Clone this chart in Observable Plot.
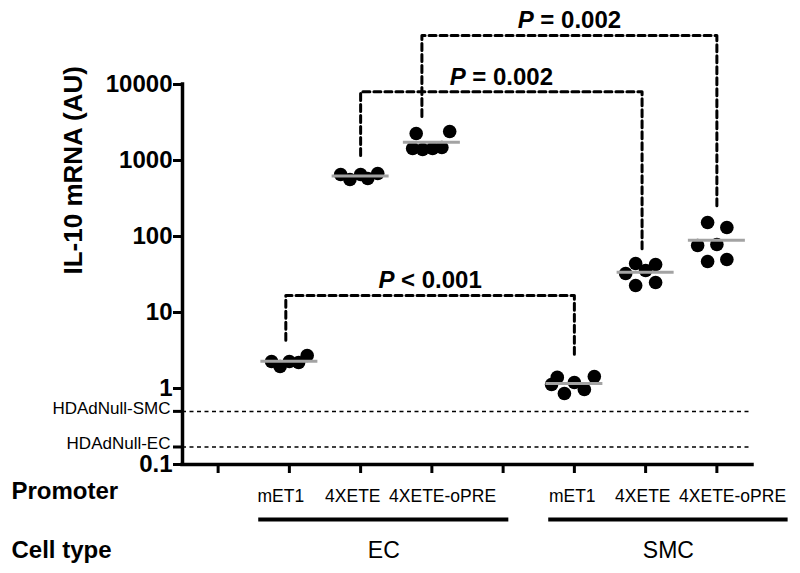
<!DOCTYPE html>
<html><head><meta charset="utf-8">
<script src="https://cdn.jsdelivr.net/npm/d3@7"></script>
<script src="https://cdn.jsdelivr.net/npm/@observablehq/plot@0.6"></script>
<style>body{margin:0;background:#fff} svg{display:block}</style>
</head><body><div id="chart"></div>
<script>
// ---- data ----
const groupNames = ["EC mET1", "EC 4XETE", "EC 4XETE-oPRE", "SMC mET1", "SMC 4XETE", "SMC 4XETE-oPRE"];
const groupPositions = [2, 3, 4, 6, 7, 8];
const groupValues = [
  [2.27, 1.95, 2.27, 2.2, 2.72],
  [654, 562, 654, 580, 675],
  [2265, 2408, 1438, 1396, 1438, 1483],
  [1.13, 1.40, 0.86, 1.20, 0.97, 1.44],
  [44.2, 42.8, 32.6, 35.7, 22.7, 24.8],
  [152.9, 131.3, 76.2, 78.5, 46.9, 49.8]
];
const groupJitter = [
  [-0.25, -0.13, 0, 0.13, 0.25],
  [-0.28, -0.15, 0, 0.1, 0.24],
  [-0.22, 0.25, -0.27, -0.13, 0.01, 0.14],
  [-0.32, -0.24, -0.14, 0, 0.14, 0.28],
  [-0.14, 0.14, -0.28, 0, -0.14, 0.14],
  [-0.13, 0.14, -0.27, 0, -0.13, 0.14]
];
const yTicks = [0.1, 1, 10, 100, 1000, 10000];
const nullLevels = [0.5, 0.17];
const nullLabels = ["HDAdNull-SMC", "HDAdNull-EC"];
const xTicks = [1, 2, 3, 4, 5, 6, 7, 8];
const promoterLabels = ["mET1", "4XETE", "4XETE-oPRE", "mET1", "4XETE", "4XETE-oPRE"];
const promoterLabelPos = [1.88, 2.89, 4.15, 5.97, 6.96, 8.22];
const cellTypes = ["EC", "SMC"];
const cellTypeStart = [1.57, 5.64];
const cellTypeEnd = [5.08, 9.0];
const bracketLabels = ["P < 0.001", "P = 0.002", "P = 0.002"];
const bracketFrom = [1.95, 3, 3.86];
const bracketTo = [6, 6.95, 8];
const bracketTop = [16.7, 8000, 44000];
const bracketFromEnd = [4.3, 1160, 3800];
const bracketToEnd = [2.55, 65, 234];
const rowHeaders = ["Promoter", "Cell type"];
const yTitle = "IL-10 mRNA (AU)";

// ---- derived tables ----
const rows = groupNames.flatMap((g, i) => groupValues[i].map((v, j) => ({group: g, pos: groupPositions[i], jitter: groupJitter[i][j], value: v})));
const means = groupNames.map((g, i) => ({group: g, pos: groupPositions[i], mean: d3.mean(groupValues[i])}));
const brackets = bracketLabels.map((label, i) => ({label, x1: bracketFrom[i], x2: bracketTo[i], top: bracketTop[i]}));
const bracketPts = bracketLabels.flatMap((label, i) => [
  {b: i, x: bracketFrom[i], y: bracketFromEnd[i]},
  {b: i, x: bracketFrom[i], y: bracketTop[i]},
  {b: i, x: bracketTo[i], y: bracketTop[i]},
  {b: i, x: bracketTo[i], y: bracketToEnd[i]}
]);
const cellGroups = cellTypes.map((c, i) => ({c, x1: cellTypeStart[i], x2: cellTypeEnd[i]}));
const nulls = nullLevels.map((v, i) => ({v, label: nullLabels[i]}));
const promoters = promoterLabels.map((p, i) => ({p, x: promoterLabelPos[i]}));

const font = "'Liberation Sans', Arial, Helvetica, sans-serif";

const chart = Plot.plot({
  width: 800, height: 573,
  marginLeft: 182, marginRight: 48, marginTop: 84, marginBottom: 109,
  style: {fontFamily: font, background: "#fff", overflow: "visible", color: "#000"},
  x: {type: "linear", domain: [0.5, 8.5], axis: null},
  y: {type: "log", domain: [0.1, 10000], axis: null},
  marks: [
    Plot.ruleY(nulls, {y: "v", x1: 0.5, x2: 8.5, stroke: "#000", strokeWidth: 1.5, strokeDasharray: "4,3.5"}),
    Plot.axisY({ticks: yTicks, tickFormat: d3.format("~g"), tickSize: 9, tickPadding: 1, fontSize: 24, fontWeight: "bold", strokeWidth: 3, label: null}),
    Plot.axisY({ticks: nullLevels, tickFormat: () => "", tickSize: 9, strokeWidth: 3, label: null}),
    Plot.text(nulls, {y: "v", x: 0.5, text: "label", textAnchor: "end", dx: -12, dy: -3, fontSize: 17, fill: "#000"}),
    Plot.axisX({ticks: xTicks, tickFormat: () => "", tickSize: 9, strokeWidth: 3, label: null}),
    Plot.text(promoters, {x: "x", text: "p", frameAnchor: "bottom", dy: 37, fontSize: 17.5, fill: "#000"}),
    Plot.ruleX([0.5], {y1: 0.1, y2: 10000, strokeWidth: 3.5, strokeLinecap: "square"}),
    Plot.ruleY([0.1], {x1: 0.5, x2: 8.5, strokeWidth: 3.5, strokeLinecap: "square"}),
    Plot.dot(rows, {x: d => d.pos + d.jitter, y: "value", r: 6.8, fill: "#000", stroke: "none"}),
    Plot.ruleY(means, {y: "mean", x1: d => d.pos - 0.4, x2: d => d.pos + 0.4, stroke: "#a3a3a3", strokeWidth: 3}),
    Plot.line(bracketPts, {x: "x", y: "y", z: "b", stroke: "#000", strokeWidth: 3, strokeDasharray: "7,4"}),
    Plot.text(brackets, {x: d => (d.x1 + d.x2) / 2, y: "top", text: "label", dy: -15, fontSize: 24, fontWeight: "bold", fill: "#000"}),
    Plot.text([yTitle], {text: d => d, frameAnchor: "left", dx: -109, rotate: -90, fontSize: 26, fontWeight: "bold", fill: "#000"}),
    Plot.text([rowHeaders[0]], {text: d => d, x: -1.9, frameAnchor: "bottom", dy: 34, textAnchor: "start", fontSize: 24, fontWeight: "bold", fill: "#000"}),
    Plot.text([rowHeaders[1]], {text: d => d, x: -1.9, frameAnchor: "bottom", dy: 93, textAnchor: "start", fontSize: 24, fontWeight: "bold", fill: "#000"}),
    Plot.ruleY(cellGroups, {y: () => 0.1, x1: "x1", x2: "x2", dy: 55, strokeWidth: 4}),
    Plot.text(cellGroups, {text: "c", x: d => (d.x1 + d.x2) / 2, frameAnchor: "bottom", dy: 93, fontSize: 23, fill: "#000"})
  ]
});
document.getElementById("chart").appendChild(chart);

// italic "P" in significance labels
d3.select(chart).selectAll("text").each(function () {
  const t = this.textContent;
  if (/^P [=<]/.test(t) && this.children.length === 0) {
    const sel = d3.select(this);
    sel.text(null);
    sel.append("tspan").attr("font-style", "italic").text("P");
    sel.append("tspan").text(t.slice(1));
  }
});
</script>
</body></html>
